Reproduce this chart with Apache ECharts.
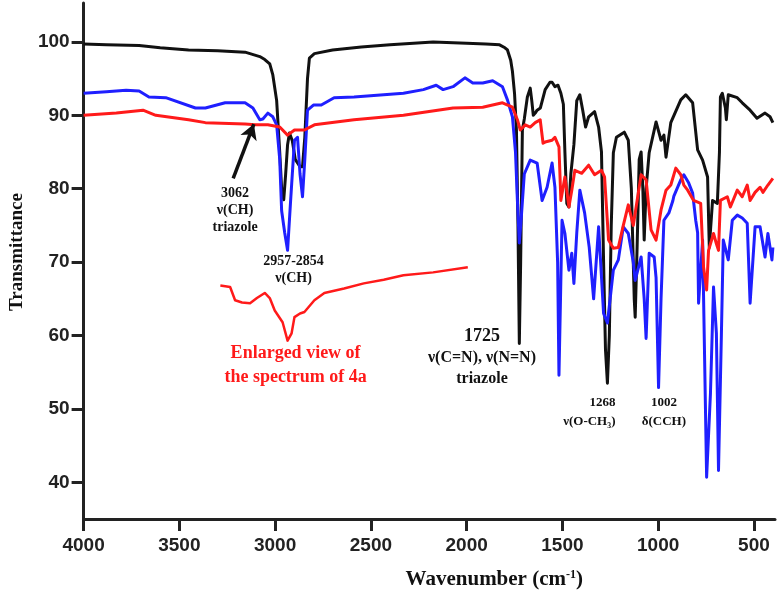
<!DOCTYPE html>
<html>
<head>
<meta charset="utf-8">
<script src="https://cdn.jsdelivr.net/npm/echarts@6/dist/echarts.min.js"></script>
<style>
html,body{margin:0;padding:0;background:#fff;}
#chart{width:779px;height:599px;}
</style>
</head>
<body>
<div id="chart"></div>
<script>
// Axis ticks
const wavenumberTicks = [4000, 3500, 3000, 2500, 2000, 1500, 1000, 500];
const transmittanceTicks = [40, 50, 60, 70, 80, 90, 100];

// Spectra: [wavenumber (cm-1), transmittance]
const blackSpectrum = [
  [4000,99.7],[3881,99.6],[3710,99.5],[3600,99.2],[3452,98.9],[3300,98.8],[3157,98.6],[3080,98.0],
  [3054,97.6],[3028,97.0],[3012,95.5],[2992,92],[2976,85],[2966,80],[2955,78.5],[2945,82],[2935,86],
  [2925,87.6],[2910,86.5],[2895,84],[2870,83],[2857,83],[2845,87],[2831,95],[2821,97.8],[2795,98.4],
  [2700,98.9],[2550,99.3],[2400,99.6],[2175,100],[2000,99.8],[1900,99.7],[1828,99.6],[1800,99.2],
  [1787,98.9],[1770,97.5],[1761,96],[1750,93],[1740,88],[1732,75],[1725,58.9],[1718,70],[1709,88],
  [1699,89.5],[1683,92.5],[1668,93.7],[1660,92],[1652,90],[1642,90.3],[1632,90.7],[1615,91],
  [1590,93.5],[1565,94.5],[1554,94.5],[1539,93.9],[1523,94.1],[1508,93],[1495,91.5],[1487,85],
  [1477,78],[1466,77.5],[1456,82],[1440,86],[1425,92],[1409,92.8],[1394,90.7],[1379,88.4],[1363,89.8],
  [1332,90.5],[1311,88.4],[1296,85],[1285,70],[1275,58],[1265,53.5],[1255,60],[1245,75],[1234,84.9],
  [1218,87],[1208,87.2],[1177,87.7],[1156,86.6],[1140,80],[1125,65],[1120,62.5],[1110,72],[1099,84],
  [1089,85],[1080,80],[1073,73],[1063,80],[1047,84.9],[1011,89.1],[985,86.6],[970,87.3],[959,84.3],
  [934,89],[882,92.1],[856,92.8],[820,91.7],[794,85.3],[768,83.9],[742,81.6],[733,72],[716,78.4],
  [691,78],[680,85],[675,92.5],[665,93],[649,91],[644,89.4],[634,92.8],[587,92.4],[561,91.7],
  [520,90.7],[484,89.6],[442,90.3],[416,89.8],[401,89]
];

const blueSpectrum = [
  [4000,93.0],[3881,93.2],[3778,93.4],[3710,93.3],[3659,92.5],[3571,92.4],[3416,91.0],[3364,91.0],
  [3261,91.7],[3157,91.7],[3116,91.0],[3080,89.4],[3064,89.5],[3054,89.6],[3038,90.3],[3012,89.8],
  [2992,88.7],[2976,84],[2966,77],[2950,74],[2935,71.6],[2920,78],[2899,86.6],[2883,87.0],[2870,82],
  [2857,78.9],[2845,84],[2831,90.7],[2800,91.4],[2759,91.4],[2692,92.4],[2588,92.5],[2330,93.0],
  [2226,93.5],[2159,94.1],[2123,93.5],[2071,93.9],[2009,95.1],[1968,94.4],[1916,94.4],[1864,94.7],
  [1813,93.9],[1787,92.1],[1761,89.8],[1745,85],[1735,78.4],[1725,72.6],[1715,76],[1699,82],
  [1668,83.9],[1632,83.5],[1606,78.4],[1580,80.2],[1554,83.5],[1539,80.2],[1525,70],[1518,54.6],
  [1510,65],[1502,75.7],[1487,73.9],[1466,68.9],[1451,71.2],[1440,67.1],[1425,74],[1409,79.8],
  [1384,76.7],[1360,72],[1337,65],[1311,74.8],[1285,63],[1265,61.7],[1234,68.9],[1208,70.3],
  [1182,74.8],[1156,73.9],[1130,70],[1120,67.5],[1089,70.7],[1073,65],[1063,59.6],[1047,71.2],
  [1021,70.7],[1011,67.9],[998,52.9],[985,65],[970,75.7],[944,76.7],[923,78.4],[918,79],[882,81.2],
  [866,81.9],[841,80.8],[820,79.4],[804,75.7],[794,74],[789,64.4],[768,73],[747,40.7],[727,52.1],
  [711,66.6],[696,60.3],[685,41.6],[670,60],[660,73],[634,70.3],[613,75.7],[587,76.4],[561,76],
  [535,75.3],[520,64.4],[494,74.8],[468,74.8],[442,70.7],[427,73.9],[406,70.3],[401,72]
];

const redSpectrum = [
  [4000,90.0],[3829,90.3],[3690,90.7],[3623,90.0],[3452,89.4],[3364,89.0],[3157,88.8],[3105,88.7],
  [3038,88.7],[2976,88.4],[2935,87.3],[2899,88.0],[2847,88.0],[2795,88.7],[2588,89.4],[2330,90.0],
  [2071,91.0],[1916,91.1],[1813,91.7],[1761,91.1],[1735,89.4],[1720,88.0],[1694,88.7],[1668,88.4],
  [1642,89.0],[1616,89.4],[1601,86.2],[1585,86.4],[1554,86.6],[1539,87.0],[1518,85.7],[1508,78.4],
  [1487,81.6],[1466,77.5],[1451,79.8],[1435,82.5],[1399,82.1],[1363,83.2],[1332,81.9],[1296,82.5],
  [1280,81.6],[1259,73],[1234,71.9],[1208,72],[1182,75],[1156,77.8],[1130,75],[1089,81.9],
  [1063,81.2],[1037,74.4],[1011,73],[985,77.1],[959,79.8],[934,80.5],[908,82.8],[882,81.9],
  [866,80.5],[846,79.8],[815,78.4],[778,78],[763,69.3],[747,66.2],[737,71.6],[711,73.9],[696,72.5],
  [685,71.6],[675,78.4],[639,78.9],[623,77.5],[587,79.8],[561,78.9],[535,80.5],[520,78.4],
  [494,79.5],[468,80.2],[453,79.5],[427,80.5],[401,81.4]
];

// Enlarged view of the 4a spectrum (drawn inside the plot)
const redEnlarged = [
  [3286,66.8],[3235,66.6],[3209,64.8],[3173,64.5],[3131,64.4],[3095,65.1],[3054,65.8],[3028,65.1],
  [3002,63.4],[2961,61.8],[2935,59.3],[2914,60.3],[2899,62.5],[2870,63.0],[2847,63.2],[2795,64.8],
  [2743,65.8],[2640,66.4],[2537,67.1],[2433,67.6],[2330,68.2],[2175,68.6],[1994,69.3]
];

// Annotations
const notes = [
  {text:'3062\nν(CH)\ntriazole', wn:3209, t:77.1, size:14, lh:17, color:'#111', align:'center'},
  {text:'2957-2854\nν(CH)', wn:2904, t:68.9, size:14, lh:17, color:'#111', align:'center'},
  {text:'Enlarged view of\nthe spectrum of 4a', wn:2893, t:55.9, size:18, lh:24, color:'#ff1a1a', align:'center'},
  {text:'{b|1725}\nν(C=N), ν(N=N)\ntriazole', wn:1920, t:57.0, size:16, lh:21, color:'#111', align:'center'},
  {text:'1268\nν(O-CH₃)', wn:1223, t:49.5, size:13, lh:19, color:'#111', align:'right'},
  {text:'1002\nδ(CCH)', wn:970, t:49.5, size:13, lh:19, color:'#111', align:'center'}
];
const arrowFrom = [3219, 81.4];
const arrowTo = [3111, 88.8];

const serif = '"Liberation Serif","Times New Roman",serif';
const sans = '"Liberation Sans",Arial,sans-serif';
const chart = echarts.init(document.getElementById('chart'));

function spectrum(name, data, color, width, z) {
  return {
    name, type:'line', data, showSymbol:false, symbol:'none', z,
    lineStyle:{color, width, join:'round'}, itemStyle:{color},
    emphasis:{disabled:true}, silent:true, animation:false
  };
}

const blackSeries = spectrum('black', blackSpectrum, '#111111', 3, 2);
blackSeries.markLine = {
  silent:true, symbol:['none','arrow'], symbolSize:[13,15], animation:false,
  label:{show:false},
  lineStyle:{color:'#111', width:3.5, type:'solid', opacity:1},
  data:[[{coord:arrowFrom},{coord:arrowTo}]]
};

const option = {
  backgroundColor:'#fff',
  animation:false,
  grid:{left:77, right:4, top:3, bottom:80, containLabel:false},
  xAxis:{
    type:'value', inverse:true, min:390, max:4000,
    name:'Wavenumber (cm{sup|-1})', nameLocation:'middle', nameGap:50,
    nameTextStyle:{
      fontFamily:serif, fontWeight:'bold', fontSize:21, color:'#111',
      padding:[0,0,0,130],
      rich:{sup:{fontFamily:serif, fontWeight:'bold', fontSize:12, color:'#111', verticalAlign:'top', padding:[0,0,8,0]}}
    },
    axisLine:{show:true, onZero:false, lineStyle:{color:'#222', width:3}},
    axisTick:{show:true, customValues:wavenumberTicks, length:12, lineStyle:{color:'#222', width:3}},
    axisLabel:{customValues:wavenumberTicks, formatter:v => String(v), fontFamily:sans, fontWeight:'bold', fontSize:19, color:'#222', margin:17},
    splitLine:{show:false}
  },
  yAxis:{
    type:'value', min:35, max:105.3,
    name:'Transmittance', nameLocation:'middle', nameGap:52, nameRotate:90,
    nameTextStyle:{fontFamily:serif, fontWeight:'bold', fontSize:19, color:'#111', padding:[0,0,0,18]},
    axisLine:{show:true, onZero:false, lineStyle:{color:'#222', width:3}},
    axisTick:{show:true, customValues:transmittanceTicks, length:12, lineStyle:{color:'#222', width:3}},
    axisLabel:{customValues:transmittanceTicks, formatter:v => String(v), fontFamily:sans, fontWeight:'bold', fontSize:19, color:'#222', margin:14},
    splitLine:{show:false}
  },
  series:[
    blackSeries,
    spectrum('blue', blueSpectrum, '#1f1fff', 3, 3),
    spectrum('red', redSpectrum, '#ff1a1a', 3, 4),
    spectrum('redEnlarged', redEnlarged, '#ff1a1a', 2.5, 4),
    {
      type:'scatter', symbolSize:0, silent:true, z:6, animation:false,
      itemStyle:{opacity:1},
      data: notes.map(n => ({
        value:[n.wn, n.t],
        label:{
          show:true, position:'inside', formatter:n.text, align:n.align,
          fontFamily:serif, fontWeight:'bold', fontSize:n.size, lineHeight:n.lh, color:n.color,
          rich:{b:{fontFamily:serif, fontWeight:'bold', fontSize:18, lineHeight:n.lh, color:n.color}}
        }
      }))
    }
  ]
};
chart.setOption(option);
</script>
</body>
</html>
